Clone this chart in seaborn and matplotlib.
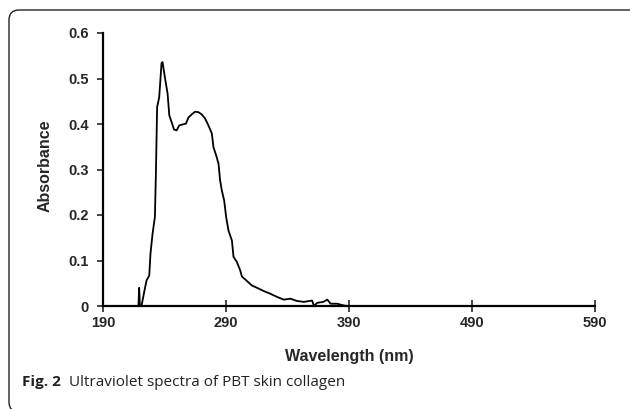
import matplotlib
matplotlib.use("Agg")
import matplotlib.pyplot as plt
from matplotlib.patches import FancyBboxPatch
import seaborn as sns
import pandas as pd

wavelength = [190, 218.8, 219.4, 220.0, 221.3, 224.0, 225.4, 227.6, 228.6, 230.3, 232.2, 233.0, 234.0,
              235.7, 237.6, 238.4, 240.3, 242.5, 243.9, 245.8, 247.7, 249.9, 252.0, 254.8,
              257.5, 259.4, 262.1, 264.8, 267.6, 270.3, 273.0, 275.7, 278.5, 279.8, 282.0,
              283.9, 285.2, 286.6, 288.5, 290.1, 292.0, 294.8, 296.1, 298.8, 301.6, 302.9,
              307.0, 311.1, 315.2, 320.6, 326.0, 331.5, 336.9, 342.4, 347.8, 353.3, 360.0,
              361.5, 364.2, 369.1, 372.4, 375.0, 380.5, 386.0, 390.0, 590]
absorbance = [0.0, 0.0, 0.040, 0.0, 0.0, 0.038, 0.056, 0.067, 0.115, 0.159, 0.196, 0.290, 0.437,
              0.459, 0.534, 0.536, 0.503, 0.467, 0.419, 0.404, 0.388, 0.386, 0.397, 0.399,
              0.401, 0.414, 0.421, 0.427, 0.426, 0.421, 0.412, 0.397, 0.379, 0.349, 0.331,
              0.313, 0.276, 0.254, 0.232, 0.196, 0.166, 0.144, 0.108, 0.097, 0.078, 0.065,
              0.055, 0.045, 0.040, 0.033, 0.027, 0.020, 0.014, 0.016, 0.011, 0.009, 0.012,
              0.0, 0.007, 0.009, 0.014, 0.005, 0.005, 0.001, 0.0, 0.0]
x_ticks = [190, 290, 390, 490, 590]
y_ticks = [0, 0.1, 0.2, 0.3, 0.4, 0.5, 0.6]
y_tick_labels = ["0", "0.1", "0.2", "0.3", "0.4", "0.5", "0.6"]

df = pd.DataFrame({"Wavelength": wavelength, "Absorbance": absorbance})

sns.set_style("ticks")
plt.rcParams["font.family"] = ["Liberation Sans", "DejaVu Sans"]

W, H = 630, 409
fig = plt.figure(figsize=(W / 100, H / 100), dpi=100)

# rounded frame, in pixel coordinates (origin bottom-left)
box = FancyBboxPatch((9, -3), W + 20, H - 10 + 3,
                     boxstyle="round,pad=0,rounding_size=10",
                     transform=None, fill=False, edgecolor="#222222",
                     linewidth=1.0)
fig.patches.append(box)

ax = fig.add_axes([103 / W, (H - 306) / H, (595 - 103) / W, (306 - 33) / H])
sns.lineplot(data=df, x="Wavelength", y="Absorbance", ax=ax, color="black",
             linewidth=1.3, estimator=None, sort=False)
ax.set_xlim(190, 590)
ax.set_ylim(0, 0.6)
ax.set_xticks(x_ticks)
ax.set_xticklabels([str(t) for t in x_ticks])
ax.set_yticks(y_ticks)
ax.set_yticklabels(y_tick_labels)
for s in ["top", "right"]:
    ax.spines[s].set_visible(False)
for s in ["left", "bottom"]:
    ax.spines[s].set_linewidth(1.6)
    ax.spines[s].set_color("black")
ax.tick_params(axis="x", direction="inout", length=8, width=1.2, labelsize=10.5, pad=3)
ax.tick_params(axis="y", direction="out", length=4, width=1.2, labelsize=10.5, pad=6)
for lbl in ax.get_xticklabels() + ax.get_yticklabels():
    lbl.set_fontweight("bold")
ax.set_xlabel("Wavelength (nm)", fontsize=11.5, fontweight="bold")
ax.set_ylabel("Absorbance", fontsize=11.5, fontweight="bold")
ax.xaxis.set_label_coords(0.5, (306 - 349) / 273)
ax.yaxis.set_label_coords((53 - 103) / 492, (306 - 166) / 273)
for line in ax.lines:
    line.set_clip_on(False)

fig.text(22 / W, 1 - 386 / H, "Fig. 2", fontsize=11, fontweight="bold",
         family=["Open Sans", "DejaVu Sans"], color="#222222", va="baseline")
fig.text(69 / W, 1 - 386 / H, "Ultraviolet spectra of PBT skin collagen", fontsize=11,
         family=["Open Sans", "DejaVu Sans"], color="#222222", va="baseline")

fig.savefig("out.png", dpi=100)
